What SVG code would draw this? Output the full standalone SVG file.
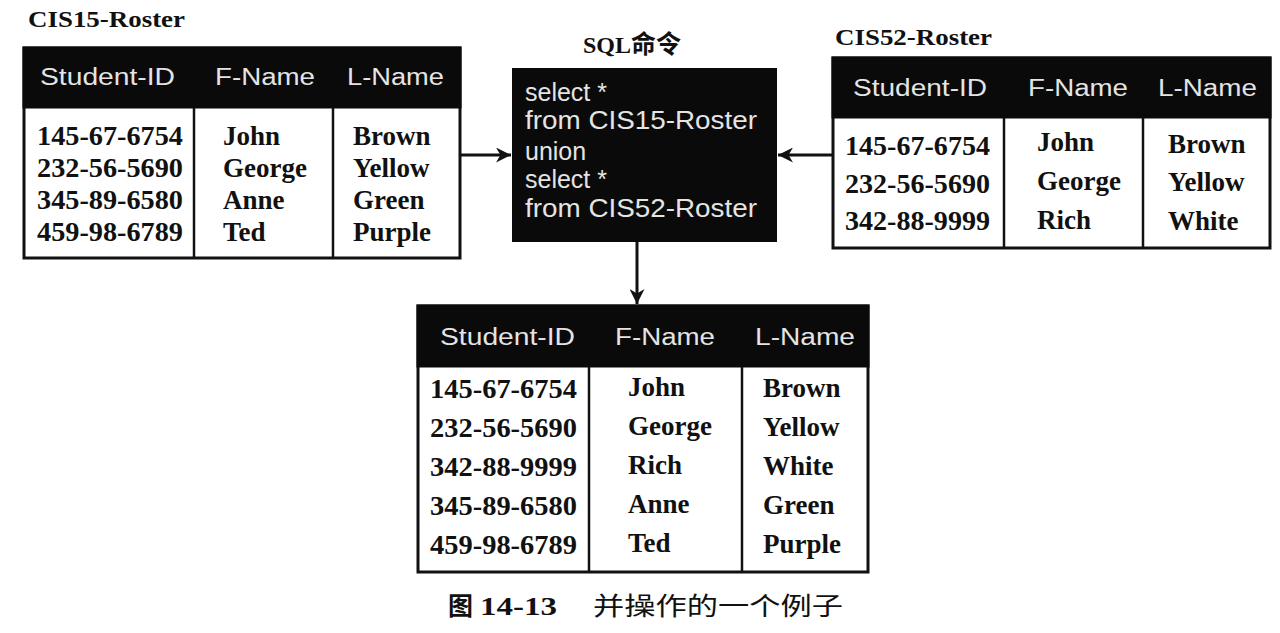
<svg xmlns="http://www.w3.org/2000/svg" width="1280" height="633" viewBox="0 0 1280 633">
<style>
.bg{fill:#ffffff}
.box{fill:#ffffff;stroke:#111;stroke-width:3}
.hdr{fill:#0a0a0a}
.div{stroke:#111;stroke-width:2.5}
.ht{font-family:"Liberation Sans",Arial,sans-serif;font-size:23px;fill:#e4e4e4}
.dt{font-family:"Liberation Serif","Times New Roman",serif;font-size:27px;font-weight:bold;fill:#111}
.lbl{font-family:"Liberation Serif","Times New Roman","Noto Sans CJK SC",serif;font-size:24px;font-weight:bold;fill:#111}
.sql{font-family:"Liberation Sans",Arial,sans-serif;font-size:25px;fill:#e4e4e4}
.cap{font-family:"Liberation Serif","Times New Roman","Noto Sans CJK SC",serif;font-size:25px;fill:#111}
.conn{stroke:#111;stroke-width:3;fill:none}
</style>
<defs>
<marker id="ah" viewBox="0 0 10 10" refX="10" refY="5" markerWidth="5" markerHeight="5" markerUnits="strokeWidth" orient="auto">
<path d="M0,0 L10,5 L0,10 L3,5 z" fill="#111"/>
</marker>
</defs>
<rect class="bg" x="0" y="0" width="1280" height="633"/>

<g id="connectors">
<line class="conn" x1="460" y1="155" x2="511" y2="155" marker-end="url(#ah)"/>
<line class="conn" x1="832" y1="155" x2="778" y2="155" marker-end="url(#ah)"/>
<line class="conn" x1="637" y1="242" x2="637" y2="304" marker-end="url(#ah)"/>
</g>

<g id="cis15">
<text class="lbl" x="28" y="27" textLength="157" lengthAdjust="spacingAndGlyphs">CIS15-Roster</text>
<rect class="box" x="24" y="48" width="436" height="210"/>
<rect class="hdr" x="22.5" y="46.5" width="439" height="62"/>
<line class="div" x1="194" y1="108" x2="194" y2="258"/>
<line class="div" x1="333" y1="108" x2="333" y2="258"/>
<text class="ht" x="40" y="85" textLength="135" lengthAdjust="spacingAndGlyphs">Student-ID</text>
<text class="ht" x="215" y="85" textLength="100" lengthAdjust="spacingAndGlyphs">F-Name</text>
<text class="ht" x="347" y="85" textLength="97" lengthAdjust="spacingAndGlyphs">L-Name</text>
<text class="dt" x="37" y="145" textLength="146" lengthAdjust="spacingAndGlyphs">145-67-6754</text>
<text class="dt" x="37" y="177" textLength="146" lengthAdjust="spacingAndGlyphs">232-56-5690</text>
<text class="dt" x="37" y="209" textLength="146" lengthAdjust="spacingAndGlyphs">345-89-6580</text>
<text class="dt" x="37" y="241" textLength="146" lengthAdjust="spacingAndGlyphs">459-98-6789</text>
<text class="dt" x="223" y="145">John</text>
<text class="dt" x="223" y="177">George</text>
<text class="dt" x="223" y="209">Anne</text>
<text class="dt" x="223" y="241">Ted</text>
<text class="dt" x="353" y="145">Brown</text>
<text class="dt" x="353" y="177">Yellow</text>
<text class="dt" x="353" y="209">Green</text>
<text class="dt" x="353" y="241">Purple</text>
</g>

<g id="sql">
<text class="lbl" x="583" y="53">SQL<tspan font-family="'Noto Sans CJK SC',sans-serif" font-size="25">命令</tspan></text>
<rect x="512" y="68" width="265" height="174" fill="#0a0a0a"/>
<text class="sql" x="525" y="101">select *</text>
<text class="sql" x="525" y="129" textLength="232" lengthAdjust="spacingAndGlyphs">from CIS15-Roster</text>
<text class="sql" x="525" y="160">union</text>
<text class="sql" x="525" y="188">select *</text>
<text class="sql" x="525" y="217" textLength="232" lengthAdjust="spacingAndGlyphs">from CIS52-Roster</text>
</g>

<g id="cis52">
<text class="lbl" x="835" y="45" textLength="157" lengthAdjust="spacingAndGlyphs">CIS52-Roster</text>
<rect class="box" x="833" y="58" width="437" height="190"/>
<rect class="hdr" x="831.5" y="56.5" width="440" height="62"/>
<line class="div" x1="1004" y1="118" x2="1004" y2="248"/>
<line class="div" x1="1143" y1="118" x2="1143" y2="248"/>
<text class="ht" x="853" y="96" textLength="134" lengthAdjust="spacingAndGlyphs">Student-ID</text>
<text class="ht" x="1028" y="96" textLength="100" lengthAdjust="spacingAndGlyphs">F-Name</text>
<text class="ht" x="1158" y="96" textLength="99" lengthAdjust="spacingAndGlyphs">L-Name</text>
<text class="dt" x="845" y="155" textLength="145" lengthAdjust="spacingAndGlyphs">145-67-6754</text>
<text class="dt" x="845" y="193" textLength="145" lengthAdjust="spacingAndGlyphs">232-56-5690</text>
<text class="dt" x="845" y="230" textLength="145" lengthAdjust="spacingAndGlyphs">342-88-9999</text>
<text class="dt" x="1037" y="151">John</text>
<text class="dt" x="1037" y="190">George</text>
<text class="dt" x="1037" y="229">Rich</text>
<text class="dt" x="1168" y="153">Brown</text>
<text class="dt" x="1168" y="191">Yellow</text>
<text class="dt" x="1168" y="230">White</text>
</g>

<g id="result">
<rect class="box" x="418" y="306" width="450" height="266"/>
<rect class="hdr" x="416.5" y="304.5" width="453" height="63"/>
<line class="div" x1="589" y1="367" x2="589" y2="572"/>
<line class="div" x1="742" y1="367" x2="742" y2="572"/>
<text class="ht" x="440" y="345" textLength="135" lengthAdjust="spacingAndGlyphs">Student-ID</text>
<text class="ht" x="615" y="345" textLength="100" lengthAdjust="spacingAndGlyphs">F-Name</text>
<text class="ht" x="755" y="345" textLength="100" lengthAdjust="spacingAndGlyphs">L-Name</text>
<text class="dt" x="430" y="398" textLength="147" lengthAdjust="spacingAndGlyphs">145-67-6754</text>
<text class="dt" x="430" y="437" textLength="147" lengthAdjust="spacingAndGlyphs">232-56-5690</text>
<text class="dt" x="430" y="476" textLength="147" lengthAdjust="spacingAndGlyphs">342-88-9999</text>
<text class="dt" x="430" y="515" textLength="147" lengthAdjust="spacingAndGlyphs">345-89-6580</text>
<text class="dt" x="430" y="554" textLength="147" lengthAdjust="spacingAndGlyphs">459-98-6789</text>
<text class="dt" x="628" y="396">John</text>
<text class="dt" x="628" y="435">George</text>
<text class="dt" x="628" y="474">Rich</text>
<text class="dt" x="628" y="513">Anne</text>
<text class="dt" x="628" y="552">Ted</text>
<text class="dt" x="763" y="397">Brown</text>
<text class="dt" x="763" y="436">Yellow</text>
<text class="dt" x="763" y="475">White</text>
<text class="dt" x="763" y="514">Green</text>
<text class="dt" x="763" y="553">Purple</text>
</g>

<g id="caption">
<text class="cap" x="448" y="615" font-weight="bold"><tspan font-family="'Noto Sans CJK SC',sans-serif">图</tspan></text>
<text class="cap" x="480" y="615" font-weight="bold" textLength="77" lengthAdjust="spacingAndGlyphs">14-13</text>
<text class="cap" x="593" y="615" font-family="'Noto Sans CJK SC',sans-serif" textLength="250" lengthAdjust="spacingAndGlyphs">并操作的一个例子</text>
</g>
</svg>
